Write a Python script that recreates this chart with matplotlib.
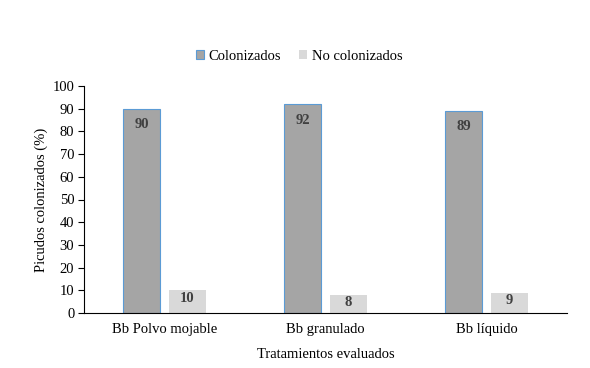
import matplotlib
matplotlib.use("Agg")
import matplotlib.pyplot as plt
import numpy as np

categories = ["Bb Polvo mojable", "Bb granulado", "Bb líquido"]
colonizados = [90, 92, 89]
no_colonizados = [10, 8, 9]
yticks = [0, 10, 20, 30, 40, 50, 60, 70, 80, 90, 100]

plt.rcParams['font.family'] = ['Liberation Serif', 'DejaVu Serif']

fig = plt.figure(figsize=(5.9, 3.68), dpi=100)
ax = fig.add_axes([84/590, 55/368, 483/590, 227/368])

x = np.arange(len(categories))
w = 37/161
gap = 9/161
off = (w + gap) / 2
b1 = ax.bar(x - off, colonizados, w, color="#A5A5A5", edgecolor="#5B9BD5", linewidth=0.8, label="Colonizados")
b2 = ax.bar(x + off, no_colonizados, w, color="#D9D9D9", edgecolor="none", label="No colonizados")

for rect, v in zip(b1, colonizados):
    ax.text(rect.get_x() + rect.get_width()/2, v - 7.0, f"{v}", ha="center", va="center",
            fontsize=10.5, fontweight="bold", color="#404040")
for rect, v in zip(b2, no_colonizados):
    ax.text(rect.get_x() + rect.get_width()/2, v - 3.5, f"{v}", ha="center", va="center",
            fontsize=10.5, fontweight="bold", color="#404040")

ax.set_xlim(-0.5, 2.5)
ax.set_ylim(0, 100)
ax.set_yticks(yticks)
ax.set_xticks(x)
ax.set_xticklabels(categories)
ax.tick_params(axis="x", length=0, labelsize=10.5, pad=7)
ax.tick_params(axis="y", length=4, width=0.8, labelsize=10.5, pad=3)
for s in ["top", "right"]:
    ax.spines[s].set_visible(False)
ax.spines["left"].set_color("#000000")
ax.spines["bottom"].set_color("#000000")
ax.spines["left"].set_linewidth(0.8)
ax.spines["bottom"].set_linewidth(0.8)

ax.set_ylabel("Picudos colonizados (%)", fontsize=10.5, labelpad=3)
ax.set_xlabel("Tratamientos evaluados", fontsize=10.5, labelpad=9)

leg = fig.legend(handles=[b1, b2], loc="center", bbox_to_anchor=(299/590, 1 - 56/368),
                 ncol=2, frameon=False, fontsize=10.5, handlelength=0.6, handleheight=0.6,
                 handletextpad=0.3, columnspacing=1.2)

fig.savefig("out.png", dpi=100)
